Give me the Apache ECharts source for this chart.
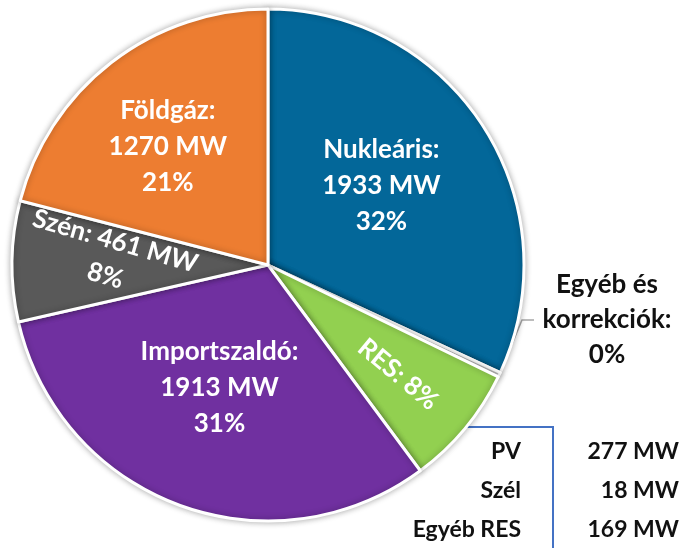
<!DOCTYPE html>
<html>
<head>
<meta charset="utf-8">
<script src="https://cdn.jsdelivr.net/npm/echarts@6/dist/echarts.min.js"></script>
<style>
  html, body { margin: 0; padding: 0; background: #fff; }
  #chart { width: 689px; height: 548px; }
</style>
</head>
<body>
<div id="chart"></div>
<script>
// forrás adatok (MW), százalékok a képről
var names = ['Nukleáris', 'Egyéb és korrekciók', 'RES', 'Importszaldó', 'Szén', 'Földgáz']
var resNames = ['PV', 'Szél', 'Egyéb RES']
var resValues = [277, 18, 169]
var values = [1933, 18, resValues[0] + resValues[1] + resValues[2], 1913, 461, 1270]
var percents = [32, 0, 8, 31, 8, 21]
var colors = ['#036799', '#E4E4E4', '#92D050', '#7030A0', '#595959', '#ED7D31']

var chart = echarts.init(document.getElementById('chart'))
var font = 'Lato, "Open Sans", sans-serif'

// címkék eltolása (a címke saját, elforgatott koordinátáiban)
var labelShift = [[3, -9], [0, 0], [39, 1], [-3, 0], [-27, 3], [-20, -15]]

var data = names.map(function (n, i) {
  var item = { name: n, value: values[i], itemStyle: { color: colors[i] } }
  var p = percents[i] + '%'
  var txt
  if (i === 0 || i === 5 || i === 3) {
    txt = n + ':\n' + values[i] + ' MW\n' + p
  } else if (i === 4) {
    txt = n + ': ' + values[i] + ' MW\n' + p
  } else if (i === 2) {
    txt = n + ': ' + p
  } else {
    txt = 'Egyéb és\nkorrekciók:\n' + p
  }
  item.label = { formatter: txt }
  if (i === 2) item.label.rotate = 'radial'
  if (i === 4) item.label.rotate = -16
  if (i === 1) {
    item.label.position = 'outside'
    item.label.color = '#111'
    item.label.lineHeight = 35
    item.label.overflow = 'none'
    item.label.width = 146
    item.labelLine = { show: true, length: 45, length2: 12, lineStyle: { color: '#A6A6A6', width: 1.5 } }
  }
  return item
})

var option = {
  animation: false,
  backgroundColor: '#fff',
  series: [{
    type: 'pie',
    center: [268, 265],
    radius: [0, 256],
    startAngle: 90,
    clockwise: true,
    data: data,
    itemStyle: {
      borderColor: '#fff',
      borderWidth: 3,
      shadowBlur: 6,
      shadowColor: 'rgba(0,0,0,0.3)'
    },
    label: {
      show: true,
      position: 'inside',
      color: '#fff',
      fontFamily: font,
      fontWeight: 'bold',
      fontSize: 26,
      lineHeight: 36,
      align: 'center'
    },
    labelLine: { show: false },
    labelLayout: function (p) {
      if (p.dataIndex === 1) {
        return { x: 607, y: 320, align: 'center', verticalAlign: 'middle' }
      }
      return { dx: labelShift[p.dataIndex][0], dy: labelShift[p.dataIndex][1] }
    }
  }],
  graphic: [
    {
      type: 'polyline',
      shape: { points: [[463, 427], [553, 427], [553, 548]] },
      style: { stroke: '#4472C4', lineWidth: 2, fill: null },
      z: -1
    }
  ].concat(resNames.map(function (n, i) {
    return {
      type: 'text',
      right: 689 - 521,
      top: 440 + i * 39,
      style: { text: n, font: 'bold 23px ' + font, fill: '#111', textAlign: 'right' }
    }
  })).concat(resValues.map(function (v, i) {
    return {
      type: 'text',
      right: 10,
      top: 440 + i * 39,
      style: { text: v + ' MW', font: 'bold 23px ' + font, fill: '#111', textAlign: 'right' }
    }
  }))
}

chart.setOption(option)
</script>
</body>
</html>
